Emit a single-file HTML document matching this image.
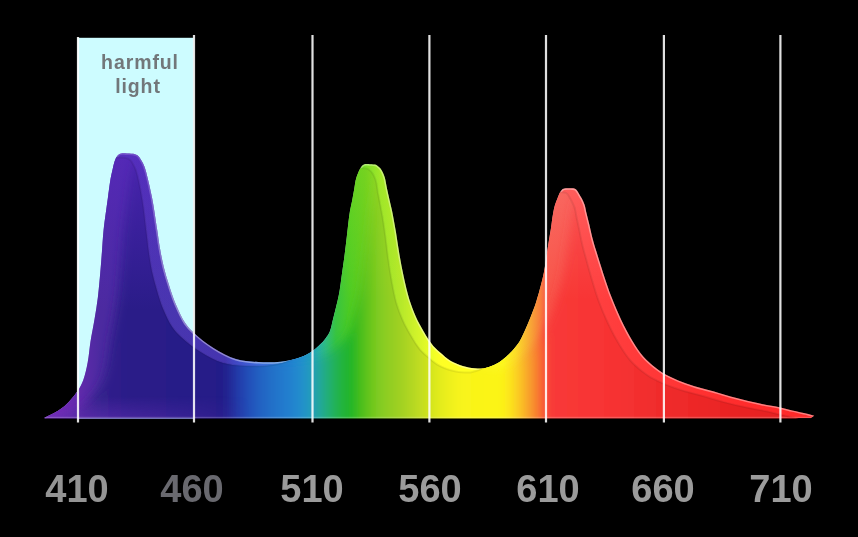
<!DOCTYPE html>
<html><head><meta charset="utf-8"><title>Spectrum</title>
<style>
html,body{margin:0;padding:0;background:#000;}
body{width:858px;height:537px;position:relative;overflow:hidden;font-family:"Liberation Sans",sans-serif;}
svg{position:absolute;left:0;top:0;}
.lab{position:absolute;top:467px;will-change:transform;width:120px;text-align:center;font-weight:bold;font-size:38px;line-height:44px;}
.hl{position:absolute;left:77px;will-change:transform;width:120px;text-align:center;font-weight:bold;font-size:19.5px;letter-spacing:0.9px;color:#72777a;line-height:23.6px;top:50px;}
</style></head>
<body>
<svg width="858" height="537" viewBox="0 0 858 537">
<defs>
<linearGradient id="g" gradientUnits="userSpaceOnUse" x1="0" y1="0" x2="858" y2="0">
<stop offset="0.0513" stop-color="#6e2ab4"/>
<stop offset="0.0909" stop-color="#4a2698"/>
<stop offset="0.1166" stop-color="#32208c"/>
<stop offset="0.1515" stop-color="#2a1e88"/>
<stop offset="0.2331" stop-color="#271c88"/>
<stop offset="0.2622" stop-color="#231c88"/>
<stop offset="0.2716" stop-color="#2030a0"/>
<stop offset="0.2821" stop-color="#2042b0"/>
<stop offset="0.2984" stop-color="#205cc0"/>
<stop offset="0.3170" stop-color="#2070c8"/>
<stop offset="0.3380" stop-color="#2080d0"/>
<stop offset="0.3531" stop-color="#2090cc"/>
<stop offset="0.3625" stop-color="#209cbc"/>
<stop offset="0.3730" stop-color="#20a89a"/>
<stop offset="0.3846" stop-color="#20b06a"/>
<stop offset="0.3986" stop-color="#20b43a"/>
<stop offset="0.4126" stop-color="#24b620"/>
<stop offset="0.4219" stop-color="#50c01e"/>
<stop offset="0.4429" stop-color="#84cc20"/>
<stop offset="0.4662" stop-color="#a0d020"/>
<stop offset="0.4895" stop-color="#c0dc20"/>
<stop offset="0.5128" stop-color="#e4ec1c"/>
<stop offset="0.5361" stop-color="#f8f41a"/>
<stop offset="0.5862" stop-color="#fcf418"/>
<stop offset="0.6014" stop-color="#fcd420"/>
<stop offset="0.6154" stop-color="#f8a42c"/>
<stop offset="0.6294" stop-color="#f87030"/>
<stop offset="0.6375" stop-color="#f83a38"/>
<stop offset="0.6993" stop-color="#f83434"/>
<stop offset="0.7692" stop-color="#f02c2c"/>
<stop offset="0.8625" stop-color="#e82222"/>
<stop offset="0.9499" stop-color="#e41e1e"/>
</linearGradient>
<linearGradient id="vg" gradientUnits="userSpaceOnUse" x1="0" y1="160" x2="0" y2="300">
<stop offset="0" stop-color="#fff" stop-opacity="0.17"/>
<stop offset="1" stop-color="#fff" stop-opacity="0"/>
</linearGradient>
<linearGradient id="vgp" gradientUnits="userSpaceOnUse" x1="0" y1="160" x2="0" y2="310">
<stop offset="0" stop-color="#5a28c4" stop-opacity="0.6"/>
<stop offset="1" stop-color="#5a28c4" stop-opacity="0"/>
</linearGradient>
<linearGradient id="sidep" gradientUnits="userSpaceOnUse" x1="0" y1="0" x2="330" y2="0">
<stop offset="0" stop-color="#7a58e0" stop-opacity="0.35"/>
<stop offset="0.7" stop-color="#7a58e0" stop-opacity="0.3"/>
<stop offset="1" stop-color="#7a58e0" stop-opacity="0"/>
</linearGradient>
<linearGradient id="vgy" gradientUnits="userSpaceOnUse" x1="0" y1="160" x2="0" y2="300">
<stop offset="0" stop-color="#f0ff20" stop-opacity="0.14"/>
<stop offset="1" stop-color="#f0ff20" stop-opacity="0"/>
</linearGradient>
<linearGradient id="gl" gradientUnits="userSpaceOnUse" x1="0" y1="0" x2="858" y2="0">
<stop offset="0.0513" stop-color="#7a2cb8"/>
<stop offset="0.0816" stop-color="#6a2ab0"/>
<stop offset="0.0991" stop-color="#5a2aa8"/>
<stop offset="0.1166" stop-color="#4c2aa0"/>
<stop offset="0.1632" stop-color="#482aa0"/>
<stop offset="0.2331" stop-color="#3a2494"/>
<stop offset="0.2622" stop-color="#2a2090"/>
<stop offset="0.2716" stop-color="#2030a0"/>
<stop offset="0.2821" stop-color="#2042b0"/>
<stop offset="0.2984" stop-color="#205cc0"/>
<stop offset="0.3170" stop-color="#2070c8"/>
<stop offset="0.3380" stop-color="#2080d0"/>
<stop offset="0.3531" stop-color="#2090cc"/>
<stop offset="0.3625" stop-color="#209cbc"/>
<stop offset="0.3706" stop-color="#28b0a8"/>
<stop offset="0.3800" stop-color="#30bc80"/>
<stop offset="0.3916" stop-color="#38c440"/>
<stop offset="0.4079" stop-color="#50cc24"/>
<stop offset="0.4254" stop-color="#62cc20"/>
<stop offset="0.4429" stop-color="#80d224"/>
<stop offset="0.4662" stop-color="#a8dc28"/>
<stop offset="0.4895" stop-color="#c0dc20"/>
<stop offset="0.5128" stop-color="#e8f020"/>
<stop offset="0.5361" stop-color="#fcf820"/>
<stop offset="0.5862" stop-color="#fcf820"/>
<stop offset="0.6014" stop-color="#fcdc28"/>
<stop offset="0.6154" stop-color="#f8b034"/>
<stop offset="0.6294" stop-color="#f8803c"/>
<stop offset="0.6375" stop-color="#f85448"/>
<stop offset="0.6993" stop-color="#f84444"/>
<stop offset="0.7692" stop-color="#f03838"/>
<stop offset="0.9499" stop-color="#e82424"/>
</linearGradient>
<filter id="bl" x="-0.05" y="-0.05" width="1.1" height="1.1"><feGaussianBlur stdDeviation="5"/></filter>
<linearGradient id="bot" gradientUnits="userSpaceOnUse" x1="0" y1="396" x2="0" y2="418">
<stop offset="0" stop-color="#6a30b8" stop-opacity="0"/>
<stop offset="1" stop-color="#6a30b8" stop-opacity="0.55"/>
</linearGradient>
<linearGradient id="botx" gradientUnits="userSpaceOnUse" x1="40" y1="0" x2="250" y2="0">
<stop offset="0" stop-color="#fff" stop-opacity="1"/>
<stop offset="0.3" stop-color="#fff" stop-opacity="0.9"/>
<stop offset="0.7" stop-color="#fff" stop-opacity="0.45"/>
<stop offset="1" stop-color="#fff" stop-opacity="0"/>
</linearGradient>
<mask id="botm"><rect x="0" y="380" width="300" height="50" fill="url(#botx)"/></mask>
<filter id="br" x="-0.05" y="-0.05" width="1.1" height="1.1" color-interpolation-filters="sRGB">
<feComponentTransfer>
<feFuncR type="linear" slope="1.08" intercept="0.03"/>
<feFuncG type="linear" slope="1.08" intercept="0.03"/>
<feFuncB type="linear" slope="1.08" intercept="0.03"/>
</feComponentTransfer>
</filter>
</defs>
<rect x="0" y="0" width="858" height="537" fill="#000"/>
<rect x="77.5" y="37.8" width="116" height="381" fill="#cdfcff"/>
<clipPath id="cu"><path d="M44.5 417.8 C50.4 414.5 56.9 412.1 62.3 407.8 C67.9 403.4 73.6 396.6 77.2 391.4 C80.0 387.5 81.5 384.5 83.2 380.2 C85.2 375.0 86.5 368.5 87.7 362.3 C89.0 355.7 89.4 348.6 90.5 341.6 C91.6 334.3 93.3 326.7 94.5 319.3 C95.7 311.9 97.0 304.5 97.9 297.0 C98.8 289.6 99.4 282.1 100.1 274.6 C100.8 267.2 101.3 259.7 101.9 252.3 C102.5 244.9 102.7 238.2 103.6 230.0 C104.7 219.9 107.1 204.0 108.1 196.3 C108.6 192.3 108.9 190.3 109.3 187.3 C109.7 184.2 110.1 181.1 110.7 178.0 C111.3 175.0 112.0 172.0 112.7 169.0 C113.4 166.0 114.1 162.5 115.1 160.1 C115.8 158.3 116.5 156.6 117.5 155.5 C118.2 154.6 118.9 154.1 120.0 153.7 C121.7 153.1 124.6 153.4 127.0 153.5 C129.6 153.6 132.9 153.6 135.0 154.2 C136.5 154.7 137.5 155.2 138.5 156.2 C139.7 157.4 140.7 159.3 141.7 161.0 C142.7 162.8 143.5 164.1 144.5 166.8 C146.6 172.7 149.6 185.8 151.7 195.9 C153.9 206.8 155.7 220.3 157.2 230.0 C158.3 237.1 158.9 242.4 160.0 248.6 C161.1 254.8 162.3 261.0 163.8 267.2 C165.4 273.5 167.3 279.7 169.3 285.9 C171.3 292.1 173.3 298.4 175.9 304.5 C178.6 310.8 181.8 318.0 185.2 323.1 C187.9 327.1 190.3 329.5 194.0 333.0 C199.1 337.7 206.5 343.7 213.5 348.0 C220.5 352.4 228.2 356.7 235.9 359.0 C243.2 361.2 250.7 361.6 258.2 362.0 C265.6 362.4 273.4 362.5 280.6 361.7 C287.5 360.9 294.9 359.4 300.5 357.3 C305.0 355.6 308.6 353.5 312.0 351.2 C315.0 349.2 317.7 346.8 320.0 344.5 C322.1 342.5 323.9 340.6 325.5 338.4 C327.1 336.2 328.6 334.2 329.8 331.5 C331.2 328.2 331.8 323.9 332.8 320.0 C333.8 316.0 334.8 312.2 335.8 308.0 C336.9 303.3 338.3 298.1 339.2 293.0 C340.2 287.8 340.7 282.8 341.5 277.0 C342.5 270.2 343.6 262.1 344.6 254.7 C345.6 247.2 346.4 239.6 347.3 232.3 C348.1 225.4 348.8 217.9 349.8 212.0 C350.6 207.4 351.5 203.7 352.3 199.7 C353.0 195.9 353.7 191.9 354.3 188.5 C354.8 185.6 355.0 183.0 355.6 180.4 C356.2 178.0 357.1 175.4 357.9 173.4 C358.5 171.8 359.1 170.5 359.8 169.2 C360.4 168.0 360.9 166.7 361.7 165.9 C362.4 165.2 363.1 164.6 364.2 164.3 C365.7 163.9 368.1 164.1 370.0 164.2 C372.0 164.3 374.6 164.3 376.0 164.8 C376.9 165.1 377.3 165.7 378.0 166.2 C378.8 166.8 379.6 167.4 380.3 168.3 C381.1 169.3 381.9 170.6 382.6 172.0 C383.4 173.6 384.1 175.4 384.8 177.6 C385.7 180.6 386.2 184.8 387.0 188.5 C387.8 192.2 388.6 195.9 389.5 199.7 C390.4 203.7 391.4 207.4 392.3 212.0 C393.5 217.9 394.8 225.4 396.0 232.3 C397.2 239.6 398.2 247.3 399.5 254.7 C400.8 262.2 402.2 269.6 403.8 277.0 C405.5 284.5 407.2 292.4 409.4 299.4 C411.4 305.7 414.0 312.5 416.0 317.0 C417.3 319.9 418.2 321.6 419.5 324.0 C420.9 326.6 422.5 329.5 424.0 332.0 C425.4 334.4 426.6 336.5 428.1 338.8 C429.7 341.2 431.2 343.6 433.3 346.0 C435.7 348.7 439.4 351.7 442.0 354.0 C444.1 355.9 445.9 357.5 447.9 358.9 C449.8 360.3 451.9 361.5 453.9 362.5 C455.8 363.5 457.8 364.3 459.8 365.0 C461.8 365.7 463.8 366.3 465.8 366.8 C467.8 367.3 469.7 367.7 471.7 368.0 C473.7 368.3 475.7 368.4 477.7 368.5 C479.7 368.6 481.7 368.7 483.6 368.4 C485.5 368.1 487.3 367.6 489.0 367.0 C490.7 366.4 492.3 365.8 494.0 365.0 C495.8 364.1 497.8 363.1 499.5 362.0 C501.1 361.0 502.5 359.8 504.0 358.6 C505.6 357.3 507.2 355.9 508.8 354.3 C510.7 352.4 513.0 349.9 514.8 347.7 C516.5 345.6 517.9 344.1 519.5 341.5 C521.7 337.9 524.0 332.3 526.0 327.9 C527.8 323.8 529.4 320.2 531.0 316.0 C532.8 311.4 534.6 307.0 536.3 301.5 C538.6 294.4 541.3 284.1 543.0 276.6 C544.4 270.5 545.1 265.6 546.0 260.0 C546.9 254.4 547.6 248.5 548.5 243.0 C549.3 237.8 550.2 232.9 551.0 228.0 C551.7 223.3 552.2 218.2 553.0 214.0 C553.6 210.5 554.2 207.2 555.1 204.4 C555.8 202.1 556.8 200.2 557.5 198.3 C558.1 196.7 558.6 195.1 559.3 193.7 C559.9 192.4 560.5 191.1 561.4 190.2 C562.1 189.4 562.9 188.9 564.0 188.6 C565.4 188.1 567.7 188.3 569.5 188.3 C571.3 188.3 573.7 188.2 575.0 188.8 C575.9 189.2 576.4 189.8 577.0 190.5 C577.7 191.4 578.3 192.5 579.0 193.7 C579.8 195.1 580.8 196.6 581.7 198.3 C582.7 200.2 583.7 202.1 584.5 204.4 C585.4 207.1 585.8 210.3 586.6 213.5 C587.5 217.0 588.4 220.7 589.4 224.7 C590.5 229.4 591.6 234.9 593.0 240.0 C594.3 245.0 595.9 249.7 597.5 255.0 C599.4 261.1 601.5 267.9 603.7 274.7 C606.1 281.9 608.6 289.6 611.5 297.0 C614.5 304.7 617.8 312.6 621.3 320.0 C624.8 327.2 628.6 334.6 632.5 341.0 C636.0 346.7 639.4 352.0 643.3 356.5 C646.9 360.6 651.3 364.3 655.0 367.3 C658.1 369.7 660.4 371.4 663.8 373.4 C668.0 375.8 673.3 378.3 678.3 380.4 C683.5 382.6 689.0 384.4 694.6 386.2 C700.6 388.1 706.7 389.5 713.2 391.3 C720.6 393.4 728.8 396.0 736.6 398.1 C744.3 400.1 752.4 402.0 759.9 403.6 C766.9 405.1 774.5 406.2 780.4 407.5 C784.9 408.5 788.1 409.4 792.3 410.4 C797.0 411.5 803.2 412.8 807.2 413.8 C810.0 414.5 811.9 415.1 814.3 415.7 L811 418.3 L44.5 418.3 Z"/></clipPath>
<clipPath id="cb"><path d="M44.5 417.8 C50.4 414.5 56.9 412.1 62.3 407.8 C67.9 403.4 73.6 396.6 77.2 391.4 C80.0 387.5 81.5 384.5 83.2 380.2 C85.2 375.0 86.5 368.5 87.7 362.3 C89.0 355.7 89.4 348.6 90.5 341.6 C91.6 334.3 93.3 326.7 94.5 319.3 C95.7 311.9 97.0 304.5 97.9 297.0 C98.8 289.6 99.4 282.1 100.1 274.6 C100.8 267.2 101.3 259.7 101.9 252.3 C102.5 244.9 102.7 238.2 103.6 230.0 C104.7 219.9 107.1 204.0 108.1 196.3 C108.6 192.3 108.9 190.3 109.3 187.3 C109.7 184.2 110.1 181.1 110.7 178.0 C111.3 175.0 112.0 172.0 112.7 169.0 C113.4 166.0 114.1 162.5 115.1 160.1 C115.8 158.3 116.5 156.6 117.5 155.5 C118.2 154.6 118.9 154.1 120.0 153.7 C121.7 153.1 124.6 153.4 127.0 153.5 C129.6 153.6 132.9 153.6 135.0 154.2 C136.5 154.7 137.5 155.2 138.5 156.2 C139.7 157.4 140.7 159.3 141.7 161.0 C142.7 162.8 143.5 164.1 144.5 166.8 C146.6 172.7 149.6 185.8 151.7 195.9 C153.9 206.8 155.7 220.3 157.2 230.0 C158.3 237.1 158.9 242.4 160.0 248.6 C161.1 254.8 162.3 261.0 163.8 267.2 C165.4 273.5 167.3 279.7 169.3 285.9 C171.3 292.1 173.3 298.4 175.9 304.5 C178.6 310.8 181.8 318.0 185.2 323.1 C187.9 327.1 190.3 329.5 194.0 333.0 C199.1 337.7 206.5 343.7 213.5 348.0 C220.5 352.4 228.2 356.7 235.9 359.0 C243.2 361.2 250.7 361.6 258.2 362.0 C265.6 362.4 273.4 362.5 280.6 361.7 C287.5 360.9 294.9 359.4 300.5 357.3 C305.0 355.6 308.6 353.5 312.0 351.2 C315.0 349.2 317.7 346.8 320.0 344.5 C322.1 342.5 323.9 340.6 325.5 338.4 C327.1 336.2 328.6 334.2 329.8 331.5 C331.2 328.2 331.8 323.9 332.8 320.0 C333.8 316.0 334.8 312.2 335.8 308.0 C336.9 303.3 338.3 298.1 339.2 293.0 C340.2 287.8 340.7 282.8 341.5 277.0 C342.5 270.2 343.6 262.1 344.6 254.7 C345.6 247.2 346.4 239.6 347.3 232.3 C348.1 225.4 348.8 217.9 349.8 212.0 C350.6 207.4 351.5 203.7 352.3 199.7 C353.0 195.9 353.7 191.9 354.3 188.5 C354.8 185.6 355.0 183.0 355.6 180.4 C356.2 178.0 357.1 175.4 357.9 173.4 C358.5 171.8 359.1 170.5 359.8 169.2 C360.4 168.0 360.9 166.7 361.7 165.9 C362.4 165.2 363.1 164.6 364.2 164.3 C365.7 163.9 368.1 164.1 370.0 164.2 C372.0 164.3 374.6 164.3 376.0 164.8 C376.9 165.1 377.3 165.7 378.0 166.2 C378.8 166.8 379.6 167.4 380.3 168.3 C381.1 169.3 381.9 170.6 382.6 172.0 C383.4 173.6 384.1 175.4 384.8 177.6 C385.7 180.6 386.2 184.8 387.0 188.5 C387.8 192.2 388.6 195.9 389.5 199.7 C390.4 203.7 391.4 207.4 392.3 212.0 C393.5 217.9 394.8 225.4 396.0 232.3 C397.2 239.6 398.2 247.3 399.5 254.7 C400.8 262.2 402.2 269.6 403.8 277.0 C405.5 284.5 407.2 292.4 409.4 299.4 C411.4 305.7 414.0 312.5 416.0 317.0 C417.3 319.9 418.2 321.6 419.5 324.0 C420.9 326.6 422.5 329.5 424.0 332.0 C425.4 334.4 426.6 336.5 428.1 338.8 C429.7 341.2 431.2 343.6 433.3 346.0 C435.7 348.7 439.4 351.7 442.0 354.0 C444.1 355.9 445.9 357.5 447.9 358.9 C449.8 360.3 451.9 361.5 453.9 362.5 C455.8 363.5 457.8 364.3 459.8 365.0 C461.8 365.7 463.8 366.3 465.8 366.8 C467.8 367.3 469.7 367.7 471.7 368.0 C473.7 368.3 475.7 368.4 477.7 368.5 C479.7 368.6 481.7 368.7 483.6 368.4 C485.5 368.1 487.3 367.6 489.0 367.0 C490.7 366.4 492.3 365.8 494.0 365.0 C495.8 364.1 497.8 363.1 499.5 362.0 C501.1 361.0 502.5 359.8 504.0 358.6 C505.6 357.3 507.2 355.9 508.8 354.3 C510.7 352.4 513.0 349.9 514.8 347.7 C516.5 345.6 517.9 344.1 519.5 341.5 C521.7 337.9 524.0 332.3 526.0 327.9 C527.8 323.8 529.4 320.2 531.0 316.0 C532.8 311.4 534.6 307.0 536.3 301.5 C538.6 294.4 541.3 284.1 543.0 276.6 C544.4 270.5 545.1 265.6 546.0 260.0 C546.9 254.4 547.6 248.5 548.5 243.0 C549.3 237.8 550.2 232.9 551.0 228.0 C551.7 223.3 552.2 218.2 553.0 214.0 C553.6 210.5 554.2 207.2 555.1 204.4 C555.8 202.1 556.8 200.2 557.5 198.3 C558.1 196.7 558.6 195.1 559.3 193.7 C559.9 192.4 560.5 191.1 561.4 190.2 C562.1 189.4 562.9 188.9 564.0 188.6 C565.4 188.1 567.7 188.3 569.5 188.3 C571.3 188.3 573.7 188.2 575.0 188.8 C575.9 189.2 576.4 189.8 577.0 190.5 C577.7 191.4 578.3 192.5 579.0 193.7 C579.8 195.1 580.8 196.6 581.7 198.3 C582.7 200.2 583.7 202.1 584.5 204.4 C585.4 207.1 585.8 210.3 586.6 213.5 C587.5 217.0 588.4 220.7 589.4 224.7 C590.5 229.4 591.6 234.9 593.0 240.0 C594.3 245.0 595.9 249.7 597.5 255.0 C599.4 261.1 601.5 267.9 603.7 274.7 C606.1 281.9 608.6 289.6 611.5 297.0 C614.5 304.7 617.8 312.6 621.3 320.0 C624.8 327.2 628.6 334.6 632.5 341.0 C636.0 346.7 639.4 352.0 643.3 356.5 C646.9 360.6 651.3 364.3 655.0 367.3 C658.1 369.7 660.4 371.4 663.8 373.4 C668.0 375.8 673.3 378.3 678.3 380.4 C683.5 382.6 689.0 384.4 694.6 386.2 C700.6 388.1 706.7 389.5 713.2 391.3 C720.6 393.4 728.8 396.0 736.6 398.1 C744.3 400.1 752.4 402.0 759.9 403.6 C766.9 405.1 774.5 406.2 780.4 407.5 C784.9 408.5 788.1 409.4 792.3 410.4 C797.0 411.5 803.2 412.8 807.2 413.8 C810.0 414.5 811.9 415.1 814.3 415.7 L811 418.3 L44.5 418.3 Z"/><path d="M48.5 415.8 C54.4 412.5 60.9 410.1 66.3 405.8 C71.9 401.4 77.6 394.6 81.2 389.4 C84.0 385.5 85.5 382.5 87.2 378.2 C89.2 373.0 90.5 366.5 91.7 360.3 C93.0 353.7 93.4 346.6 94.5 339.6 C95.6 332.3 97.3 324.7 98.5 317.3 C99.7 309.9 101.0 302.5 101.9 295.0 C102.8 287.6 103.4 280.1 104.1 272.6 C104.8 265.2 105.3 257.7 105.9 250.3 C106.5 242.9 106.7 236.2 107.6 228.0 C108.7 217.9 111.1 202.0 112.1 194.3 C112.6 190.3 112.9 188.3 113.3 185.3 C113.7 182.2 114.1 179.1 114.7 176.0 C115.3 173.0 116.0 170.0 116.7 167.0 C117.4 164.0 118.1 160.5 119.1 158.1 C119.8 156.3 120.5 154.6 121.5 153.5 C122.2 152.6 122.9 152.1 124.0 151.7 C125.7 151.1 128.6 151.4 131.0 151.5 C133.6 151.6 136.9 151.6 139.0 152.2 C140.5 152.7 141.5 153.2 142.5 154.2 C143.7 155.4 144.7 157.3 145.7 159.0 C146.7 160.8 147.5 162.1 148.5 164.8 C150.6 170.7 153.6 183.8 155.7 193.9 C157.9 204.8 159.7 218.3 161.2 228.0 C162.3 235.1 162.9 240.4 164.0 246.6 C165.1 252.8 166.3 259.0 167.8 265.2 C169.4 271.5 171.3 277.7 173.3 283.9 C175.3 290.1 177.3 296.4 179.9 302.5 C182.6 308.8 185.8 316.0 189.2 321.1 C191.9 325.1 194.3 327.5 198.0 331.0 C203.1 335.7 210.5 341.7 217.5 346.0 C224.5 350.4 232.2 354.7 239.9 357.0 C247.2 359.2 254.7 359.6 262.2 360.0 C269.6 360.4 277.4 360.5 284.6 359.7 C291.5 358.9 298.9 357.4 304.5 355.3 C309.0 353.6 312.6 351.5 316.0 349.2 C319.0 347.2 321.7 344.8 324.0 342.5 C326.1 340.5 327.9 338.6 329.5 336.4 C331.1 334.2 332.6 332.2 333.8 329.5 C335.2 326.2 335.8 321.9 336.8 318.0 C337.8 314.0 338.8 310.2 339.8 306.0 C340.9 301.3 342.3 296.1 343.2 291.0 C344.2 285.8 344.7 280.8 345.5 275.0 C346.5 268.2 347.6 260.1 348.6 252.7 C349.6 245.2 350.4 237.6 351.3 230.3 C352.1 223.4 352.8 215.9 353.8 210.0 C354.6 205.4 355.5 201.7 356.3 197.7 C357.0 193.9 357.7 189.9 358.3 186.5 C358.8 183.6 359.0 181.0 359.6 178.4 C360.2 176.0 361.1 173.4 361.9 171.4 C362.5 169.8 363.1 168.5 363.8 167.2 C364.4 166.0 364.9 164.7 365.7 163.9 C366.4 163.2 367.1 162.6 368.2 162.3 C369.7 161.9 372.1 162.1 374.0 162.2 C376.0 162.3 378.6 162.3 380.0 162.8 C380.9 163.1 381.3 163.7 382.0 164.2 C382.8 164.8 383.6 165.4 384.3 166.3 C385.1 167.3 385.9 168.6 386.6 170.0 C387.4 171.6 388.1 173.4 388.8 175.6 C389.7 178.6 390.2 182.8 391.0 186.5 C391.8 190.2 392.6 193.9 393.5 197.7 C394.4 201.7 395.4 205.4 396.3 210.0 C397.5 215.9 398.8 223.4 400.0 230.3 C401.2 237.6 402.2 245.3 403.5 252.7 C404.8 260.2 406.2 267.6 407.8 275.0 C409.5 282.5 411.2 290.4 413.4 297.4 C415.4 303.7 418.0 310.5 420.0 315.0 C421.3 317.9 422.2 319.6 423.5 322.0 C424.9 324.6 426.5 327.5 428.0 330.0 C429.4 332.4 430.6 334.5 432.1 336.8 C433.7 339.2 435.2 341.6 437.3 344.0 C439.7 346.7 443.4 349.7 446.0 352.0 C448.1 353.9 449.9 355.5 451.9 356.9 C453.8 358.3 455.9 359.5 457.9 360.5 C459.8 361.5 461.8 362.3 463.8 363.0 C465.8 363.7 467.8 364.3 469.8 364.8 C471.8 365.3 473.7 365.7 475.7 366.0 C477.7 366.3 479.7 366.4 481.7 366.5 C483.7 366.6 485.7 366.7 487.6 366.4 C489.5 366.1 491.3 365.6 493.0 365.0 C494.7 364.4 496.3 363.8 498.0 363.0 C499.8 362.1 501.8 361.1 503.5 360.0 C505.1 359.0 506.5 357.8 508.0 356.6 C509.6 355.3 511.2 353.9 512.8 352.3 C514.7 350.4 517.0 347.9 518.8 345.7 C520.5 343.6 521.9 342.1 523.5 339.5 C525.7 335.9 528.0 330.3 530.0 325.9 C531.8 321.8 533.4 318.2 535.0 314.0 C536.8 309.4 538.6 305.0 540.3 299.5 C542.6 292.4 545.3 282.1 547.0 274.6 C548.4 268.5 549.1 263.6 550.0 258.0 C550.9 252.4 551.6 246.5 552.5 241.0 C553.3 235.8 554.2 230.9 555.0 226.0 C555.7 221.3 556.2 216.2 557.0 212.0 C557.6 208.5 558.2 205.2 559.1 202.4 C559.8 200.1 560.8 198.2 561.5 196.3 C562.1 194.7 562.6 193.1 563.3 191.7 C563.9 190.4 564.5 189.1 565.4 188.2 C566.1 187.4 566.9 186.9 568.0 186.6 C569.4 186.1 571.7 186.3 573.5 186.3 C575.3 186.3 577.7 186.2 579.0 186.8 C579.9 187.2 580.4 187.8 581.0 188.5 C581.7 189.4 582.3 190.5 583.0 191.7 C583.8 193.1 584.8 194.6 585.7 196.3 C586.7 198.2 587.7 200.1 588.5 202.4 C589.4 205.1 589.8 208.3 590.6 211.5 C591.5 215.0 592.4 218.7 593.4 222.7 C594.5 227.4 595.6 232.9 597.0 238.0 C598.3 243.0 599.9 247.7 601.5 253.0 C603.4 259.1 605.5 265.9 607.7 272.7 C610.1 279.9 612.6 287.6 615.5 295.0 C618.5 302.7 621.8 310.6 625.3 318.0 C628.8 325.2 632.6 332.6 636.5 339.0 C640.0 344.7 643.4 350.0 647.3 354.5 C650.9 358.6 655.3 362.3 659.0 365.3 C662.1 367.7 664.4 369.4 667.8 371.4 C672.0 373.8 677.3 376.3 682.3 378.4 C687.5 380.6 693.0 382.4 698.6 384.2 C704.6 386.1 710.7 387.5 717.2 389.3 C724.6 391.4 732.8 394.0 740.6 396.1 C748.3 398.1 756.4 400.0 763.9 401.6 C770.9 403.1 778.5 404.2 784.4 405.5 C788.9 406.5 792.1 407.4 796.3 408.4 C801.0 409.5 807.2 410.8 811.2 411.8 C814.0 412.5 815.9 413.1 818.3 413.7 L815.0 416.3 L48.5 416.3 Z"/></clipPath>
<g clip-path="url(#cb)"><path d="M44.5 417.8 C50.4 414.5 56.9 412.1 62.3 407.8 C67.9 403.4 73.6 396.6 77.2 391.4 C80.0 387.5 81.5 384.5 83.2 380.2 C85.2 375.0 86.5 368.5 87.7 362.3 C89.0 355.7 89.4 348.6 90.5 341.6 C91.6 334.3 93.3 326.7 94.5 319.3 C95.7 311.9 97.0 304.5 97.9 297.0 C98.8 289.6 99.4 282.1 100.1 274.6 C100.8 267.2 101.3 259.7 101.9 252.3 C102.5 244.9 102.7 238.2 103.6 230.0 C104.7 219.9 107.1 204.0 108.1 196.3 C108.6 192.3 108.9 190.3 109.3 187.3 C109.7 184.2 110.1 181.1 110.7 178.0 C111.3 175.0 112.0 172.0 112.7 169.0 C113.4 166.0 114.1 162.5 115.1 160.1 C115.8 158.3 116.5 156.6 117.5 155.5 C118.2 154.6 118.9 154.1 120.0 153.7 C121.7 153.1 124.6 153.4 127.0 153.5 C129.6 153.6 132.9 153.6 135.0 154.2 C136.5 154.7 137.5 155.2 138.5 156.2 C139.7 157.4 140.7 159.3 141.7 161.0 C142.7 162.8 143.5 164.1 144.5 166.8 C146.6 172.7 149.6 185.8 151.7 195.9 C153.9 206.8 155.7 220.3 157.2 230.0 C158.3 237.1 158.9 242.4 160.0 248.6 C161.1 254.8 162.3 261.0 163.8 267.2 C165.4 273.5 167.3 279.7 169.3 285.9 C171.3 292.1 173.3 298.4 175.9 304.5 C178.6 310.8 181.8 318.0 185.2 323.1 C187.9 327.1 190.3 329.5 194.0 333.0 C199.1 337.7 206.5 343.7 213.5 348.0 C220.5 352.4 228.2 356.7 235.9 359.0 C243.2 361.2 250.7 361.6 258.2 362.0 C265.6 362.4 273.4 362.5 280.6 361.7 C287.5 360.9 294.9 359.4 300.5 357.3 C305.0 355.6 308.6 353.5 312.0 351.2 C315.0 349.2 317.7 346.8 320.0 344.5 C322.1 342.5 323.9 340.6 325.5 338.4 C327.1 336.2 328.6 334.2 329.8 331.5 C331.2 328.2 331.8 323.9 332.8 320.0 C333.8 316.0 334.8 312.2 335.8 308.0 C336.9 303.3 338.3 298.1 339.2 293.0 C340.2 287.8 340.7 282.8 341.5 277.0 C342.5 270.2 343.6 262.1 344.6 254.7 C345.6 247.2 346.4 239.6 347.3 232.3 C348.1 225.4 348.8 217.9 349.8 212.0 C350.6 207.4 351.5 203.7 352.3 199.7 C353.0 195.9 353.7 191.9 354.3 188.5 C354.8 185.6 355.0 183.0 355.6 180.4 C356.2 178.0 357.1 175.4 357.9 173.4 C358.5 171.8 359.1 170.5 359.8 169.2 C360.4 168.0 360.9 166.7 361.7 165.9 C362.4 165.2 363.1 164.6 364.2 164.3 C365.7 163.9 368.1 164.1 370.0 164.2 C372.0 164.3 374.6 164.3 376.0 164.8 C376.9 165.1 377.3 165.7 378.0 166.2 C378.8 166.8 379.6 167.4 380.3 168.3 C381.1 169.3 381.9 170.6 382.6 172.0 C383.4 173.6 384.1 175.4 384.8 177.6 C385.7 180.6 386.2 184.8 387.0 188.5 C387.8 192.2 388.6 195.9 389.5 199.7 C390.4 203.7 391.4 207.4 392.3 212.0 C393.5 217.9 394.8 225.4 396.0 232.3 C397.2 239.6 398.2 247.3 399.5 254.7 C400.8 262.2 402.2 269.6 403.8 277.0 C405.5 284.5 407.2 292.4 409.4 299.4 C411.4 305.7 414.0 312.5 416.0 317.0 C417.3 319.9 418.2 321.6 419.5 324.0 C420.9 326.6 422.5 329.5 424.0 332.0 C425.4 334.4 426.6 336.5 428.1 338.8 C429.7 341.2 431.2 343.6 433.3 346.0 C435.7 348.7 439.4 351.7 442.0 354.0 C444.1 355.9 445.9 357.5 447.9 358.9 C449.8 360.3 451.9 361.5 453.9 362.5 C455.8 363.5 457.8 364.3 459.8 365.0 C461.8 365.7 463.8 366.3 465.8 366.8 C467.8 367.3 469.7 367.7 471.7 368.0 C473.7 368.3 475.7 368.4 477.7 368.5 C479.7 368.6 481.7 368.7 483.6 368.4 C485.5 368.1 487.3 367.6 489.0 367.0 C490.7 366.4 492.3 365.8 494.0 365.0 C495.8 364.1 497.8 363.1 499.5 362.0 C501.1 361.0 502.5 359.8 504.0 358.6 C505.6 357.3 507.2 355.9 508.8 354.3 C510.7 352.4 513.0 349.9 514.8 347.7 C516.5 345.6 517.9 344.1 519.5 341.5 C521.7 337.9 524.0 332.3 526.0 327.9 C527.8 323.8 529.4 320.2 531.0 316.0 C532.8 311.4 534.6 307.0 536.3 301.5 C538.6 294.4 541.3 284.1 543.0 276.6 C544.4 270.5 545.1 265.6 546.0 260.0 C546.9 254.4 547.6 248.5 548.5 243.0 C549.3 237.8 550.2 232.9 551.0 228.0 C551.7 223.3 552.2 218.2 553.0 214.0 C553.6 210.5 554.2 207.2 555.1 204.4 C555.8 202.1 556.8 200.2 557.5 198.3 C558.1 196.7 558.6 195.1 559.3 193.7 C559.9 192.4 560.5 191.1 561.4 190.2 C562.1 189.4 562.9 188.9 564.0 188.6 C565.4 188.1 567.7 188.3 569.5 188.3 C571.3 188.3 573.7 188.2 575.0 188.8 C575.9 189.2 576.4 189.8 577.0 190.5 C577.7 191.4 578.3 192.5 579.0 193.7 C579.8 195.1 580.8 196.6 581.7 198.3 C582.7 200.2 583.7 202.1 584.5 204.4 C585.4 207.1 585.8 210.3 586.6 213.5 C587.5 217.0 588.4 220.7 589.4 224.7 C590.5 229.4 591.6 234.9 593.0 240.0 C594.3 245.0 595.9 249.7 597.5 255.0 C599.4 261.1 601.5 267.9 603.7 274.7 C606.1 281.9 608.6 289.6 611.5 297.0 C614.5 304.7 617.8 312.6 621.3 320.0 C624.8 327.2 628.6 334.6 632.5 341.0 C636.0 346.7 639.4 352.0 643.3 356.5 C646.9 360.6 651.3 364.3 655.0 367.3 C658.1 369.7 660.4 371.4 663.8 373.4 C668.0 375.8 673.3 378.3 678.3 380.4 C683.5 382.6 689.0 384.4 694.6 386.2 C700.6 388.1 706.7 389.5 713.2 391.3 C720.6 393.4 728.8 396.0 736.6 398.1 C744.3 400.1 752.4 402.0 759.9 403.6 C766.9 405.1 774.5 406.2 780.4 407.5 C784.9 408.5 788.1 409.4 792.3 410.4 C797.0 411.5 803.2 412.8 807.2 413.8 C810.0 414.5 811.9 415.1 814.3 415.7 L811 418.3 L44.5 418.3 Z" fill="url(#g)" filter="url(#br)"/></g>
<clipPath id="cf"><path d="M31.5 421.8 C37.4 418.5 43.9 416.1 49.3 411.8 C54.9 407.4 60.6 400.6 64.2 395.4 C67.0 391.5 68.5 388.5 70.2 384.2 C72.2 379.0 73.5 372.5 74.7 366.3 C76.0 359.7 76.4 352.6 77.5 345.6 C78.6 338.3 80.2 330.7 81.5 323.3 C82.7 315.9 83.9 308.4 85.0 301.0 C86.1 293.5 87.1 286.1 88.0 278.6 C88.9 271.2 89.7 263.7 90.5 256.3 C91.4 248.9 91.9 242.2 93.0 234.0 C94.4 223.9 97.4 208.0 98.7 200.3 C99.3 196.3 99.7 194.3 100.2 191.3 C100.7 188.2 101.2 185.1 101.9 182.0 C102.6 179.0 103.4 176.0 104.2 173.0 C105.1 170.0 105.9 166.5 106.9 164.1 C107.7 162.3 108.5 160.6 109.5 159.5 C110.2 158.7 110.9 158.1 112.0 157.7 C113.7 157.1 116.6 157.4 119.0 157.5 C121.6 157.6 124.9 157.5 127.0 158.2 C128.5 158.7 129.4 159.2 130.5 160.2 C131.7 161.4 132.6 163.3 133.5 165.0 C134.5 166.8 135.2 168.1 136.1 170.8 C138.0 176.7 140.6 189.8 142.3 199.9 C144.1 210.8 145.4 224.3 146.6 234.0 C147.5 241.1 147.9 246.4 148.8 252.6 C149.7 258.8 150.6 265.0 151.9 271.2 C153.3 277.5 155.0 283.7 156.8 289.9 C158.6 296.1 160.4 302.4 162.9 308.5 C165.5 314.8 168.8 322.0 172.2 327.1 C174.9 331.1 177.3 333.5 181.0 337.0 C186.1 341.7 193.5 347.7 200.5 352.0 C207.5 356.4 215.2 360.7 222.9 363.0 C230.2 365.2 237.7 365.6 245.2 366.0 C252.6 366.4 260.4 366.5 267.6 365.7 C274.5 364.9 281.9 363.4 287.5 361.3 C292.0 359.6 295.6 357.5 299.0 355.2 C302.0 353.2 304.7 350.8 307.0 348.5 C309.1 346.5 310.9 344.6 312.5 342.4 C314.1 340.2 315.6 338.2 316.8 335.5 C318.2 332.2 318.8 327.9 319.8 324.0 C320.8 320.0 321.8 316.2 322.8 312.0 C324.0 307.3 325.4 302.1 326.4 297.0 C327.5 291.8 328.3 286.8 329.3 281.0 C330.5 274.2 331.9 266.1 333.2 258.7 C334.4 251.2 335.5 243.6 336.6 236.3 C337.7 229.4 338.7 221.9 339.8 216.0 C340.7 211.4 341.9 207.7 342.8 203.7 C343.6 199.9 344.4 195.9 345.1 192.5 C345.7 189.6 346.0 187.0 346.7 184.4 C347.4 182.0 348.4 179.4 349.3 177.4 C349.9 175.8 350.6 174.5 351.3 173.2 C352.0 172.0 352.5 170.7 353.3 169.9 C354.1 169.2 354.8 168.6 355.9 168.3 C357.4 167.9 359.7 168.1 361.7 168.2 C363.7 168.3 366.3 168.3 367.7 168.8 C368.5 169.1 369.0 169.7 369.6 170.2 C370.4 170.8 371.2 171.4 371.8 172.3 C372.6 173.3 373.4 174.6 374.0 176.0 C374.8 177.6 375.4 179.4 376.0 181.6 C376.8 184.6 377.2 188.8 377.8 192.5 C378.5 196.2 379.2 199.9 380.0 203.7 C380.7 207.7 381.5 211.4 382.3 216.0 C383.3 221.9 384.4 229.4 385.3 236.3 C386.3 243.6 387.0 251.3 388.1 258.7 C389.1 266.2 390.2 273.6 391.6 281.0 C393.0 288.5 394.4 296.5 396.4 303.4 C398.3 309.7 401.0 316.5 403.0 321.0 C404.3 323.9 405.2 325.6 406.5 328.0 C407.9 330.6 409.5 333.5 411.0 336.0 C412.4 338.4 413.6 340.5 415.1 342.8 C416.7 345.2 418.2 347.6 420.3 350.0 C422.7 352.7 426.4 355.7 429.0 358.0 C431.1 359.9 432.9 361.5 434.9 362.9 C436.8 364.3 438.9 365.5 440.9 366.5 C442.8 367.5 444.8 368.3 446.8 369.0 C448.8 369.7 450.8 370.3 452.8 370.8 C454.8 371.3 456.7 371.7 458.7 372.0 C460.7 372.3 462.7 372.4 464.7 372.5 C466.7 372.6 468.7 372.7 470.6 372.4 C472.5 372.1 474.3 371.6 476.0 371.0 C477.7 370.4 479.3 369.8 481.0 369.0 C482.8 368.1 484.8 367.1 486.5 366.0 C488.1 365.0 489.5 363.8 491.0 362.6 C492.6 361.3 494.2 359.9 495.8 358.3 C497.7 356.4 500.0 353.9 501.8 351.7 C503.5 349.6 504.9 348.1 506.5 345.5 C508.7 341.9 511.0 336.3 513.0 331.9 C514.8 327.8 516.4 324.2 518.0 320.0 C519.8 315.4 521.5 311.0 523.3 305.5 C525.7 298.3 528.9 288.1 530.8 280.6 C532.4 274.5 533.3 269.6 534.4 264.0 C535.5 258.4 536.4 252.5 537.5 247.0 C538.5 241.8 539.6 236.9 540.5 232.0 C541.4 227.3 542.1 222.2 543.0 218.0 C543.7 214.5 544.4 211.2 545.4 208.4 C546.2 206.1 547.2 204.2 548.0 202.3 C548.7 200.7 549.2 199.1 550.0 197.7 C550.6 196.4 551.3 195.1 552.2 194.2 C553.0 193.4 553.7 192.9 554.8 192.6 C556.3 192.2 558.5 192.3 560.4 192.3 C562.2 192.3 564.5 192.2 565.8 192.8 C566.7 193.2 567.2 193.8 567.8 194.5 C568.5 195.4 569.0 196.5 569.7 197.7 C570.5 199.1 571.4 200.6 572.2 202.3 C573.1 204.2 574.1 206.1 574.8 208.4 C575.6 211.1 575.9 214.3 576.6 217.5 C577.3 221.0 578.2 224.7 579.0 228.7 C580.0 233.4 580.9 238.9 582.1 244.0 C583.2 249.0 584.6 253.7 586.1 259.0 C587.7 265.1 589.6 271.9 591.6 278.7 C593.7 285.9 595.9 293.6 598.6 301.0 C601.4 308.7 604.8 316.6 608.3 324.0 C611.7 331.2 615.6 338.6 619.5 345.0 C623.0 350.7 626.4 356.0 630.3 360.5 C633.9 364.6 638.3 368.3 642.0 371.3 C645.1 373.7 647.4 375.4 650.8 377.4 C655.0 379.8 660.3 382.3 665.3 384.4 C670.5 386.6 676.0 388.4 681.6 390.2 C687.6 392.1 693.7 393.5 700.2 395.3 C707.6 397.4 715.8 400.0 723.6 402.1 C731.3 404.1 739.4 406.0 746.9 407.6 C753.9 409.1 761.5 410.2 767.4 411.5 C771.9 412.5 775.1 413.4 779.3 414.4 C784.0 415.5 790.2 416.8 794.2 417.8 C797.0 418.5 798.9 419.1 801.3 419.7 L860 430 L0 430 Z"/></clipPath>
<g clip-path="url(#cu)">
<rect x="0" y="140" width="330" height="290" fill="url(#sidep)"/>
<path d="M44.5 417.8 C50.4 414.5 56.9 412.1 62.3 407.8 C67.9 403.4 73.6 396.6 77.2 391.4 C80.0 387.5 81.5 384.5 83.2 380.2 C85.2 375.0 86.5 368.5 87.7 362.3 C89.0 355.7 89.4 348.6 90.5 341.6 C91.6 334.3 93.3 326.7 94.5 319.3 C95.7 311.9 97.0 304.5 97.9 297.0 C98.8 289.6 99.4 282.1 100.1 274.6 C100.8 267.2 101.3 259.7 101.9 252.3 C102.5 244.9 102.7 238.2 103.6 230.0 C104.7 219.9 107.1 204.0 108.1 196.3 C108.6 192.3 108.9 190.3 109.3 187.3 C109.7 184.2 110.1 181.1 110.7 178.0 C111.3 175.0 112.0 172.0 112.7 169.0 C113.4 166.0 114.1 162.5 115.1 160.1 C115.8 158.3 116.5 156.6 117.5 155.5 C118.2 154.6 118.9 154.1 120.0 153.7 C121.7 153.1 124.6 153.4 127.0 153.5 C129.6 153.6 132.9 153.6 135.0 154.2 C136.5 154.7 137.5 155.2 138.5 156.2 C139.7 157.4 140.7 159.3 141.7 161.0 C142.7 162.8 143.5 164.1 144.5 166.8 C146.6 172.7 149.6 185.8 151.7 195.9 C153.9 206.8 155.7 220.3 157.2 230.0 C158.3 237.1 158.9 242.4 160.0 248.6 C161.1 254.8 162.3 261.0 163.8 267.2 C165.4 273.5 167.3 279.7 169.3 285.9 C171.3 292.1 173.3 298.4 175.9 304.5 C178.6 310.8 181.8 318.0 185.2 323.1 C187.9 327.1 190.3 329.5 194.0 333.0 C199.1 337.7 206.5 343.7 213.5 348.0 C220.5 352.4 228.2 356.7 235.9 359.0 C243.2 361.2 250.7 361.6 258.2 362.0 C265.6 362.4 273.4 362.5 280.6 361.7 C287.5 360.9 294.9 359.4 300.5 357.3 C305.0 355.6 308.6 353.5 312.0 351.2 C315.0 349.2 317.7 346.8 320.0 344.5 C322.1 342.5 323.9 340.6 325.5 338.4 C327.1 336.2 328.6 334.2 329.8 331.5 C331.2 328.2 331.8 323.9 332.8 320.0 C333.8 316.0 334.8 312.2 335.8 308.0 C336.9 303.3 338.3 298.1 339.2 293.0 C340.2 287.8 340.7 282.8 341.5 277.0 C342.5 270.2 343.6 262.1 344.6 254.7 C345.6 247.2 346.4 239.6 347.3 232.3 C348.1 225.4 348.8 217.9 349.8 212.0 C350.6 207.4 351.5 203.7 352.3 199.7 C353.0 195.9 353.7 191.9 354.3 188.5 C354.8 185.6 355.0 183.0 355.6 180.4 C356.2 178.0 357.1 175.4 357.9 173.4 C358.5 171.8 359.1 170.5 359.8 169.2 C360.4 168.0 360.9 166.7 361.7 165.9 C362.4 165.2 363.1 164.6 364.2 164.3 C365.7 163.9 368.1 164.1 370.0 164.2 C372.0 164.3 374.6 164.3 376.0 164.8 C376.9 165.1 377.3 165.7 378.0 166.2 C378.8 166.8 379.6 167.4 380.3 168.3 C381.1 169.3 381.9 170.6 382.6 172.0 C383.4 173.6 384.1 175.4 384.8 177.6 C385.7 180.6 386.2 184.8 387.0 188.5 C387.8 192.2 388.6 195.9 389.5 199.7 C390.4 203.7 391.4 207.4 392.3 212.0 C393.5 217.9 394.8 225.4 396.0 232.3 C397.2 239.6 398.2 247.3 399.5 254.7 C400.8 262.2 402.2 269.6 403.8 277.0 C405.5 284.5 407.2 292.4 409.4 299.4 C411.4 305.7 414.0 312.5 416.0 317.0 C417.3 319.9 418.2 321.6 419.5 324.0 C420.9 326.6 422.5 329.5 424.0 332.0 C425.4 334.4 426.6 336.5 428.1 338.8 C429.7 341.2 431.2 343.6 433.3 346.0 C435.7 348.7 439.4 351.7 442.0 354.0 C444.1 355.9 445.9 357.5 447.9 358.9 C449.8 360.3 451.9 361.5 453.9 362.5 C455.8 363.5 457.8 364.3 459.8 365.0 C461.8 365.7 463.8 366.3 465.8 366.8 C467.8 367.3 469.7 367.7 471.7 368.0 C473.7 368.3 475.7 368.4 477.7 368.5 C479.7 368.6 481.7 368.7 483.6 368.4 C485.5 368.1 487.3 367.6 489.0 367.0 C490.7 366.4 492.3 365.8 494.0 365.0 C495.8 364.1 497.8 363.1 499.5 362.0 C501.1 361.0 502.5 359.8 504.0 358.6 C505.6 357.3 507.2 355.9 508.8 354.3 C510.7 352.4 513.0 349.9 514.8 347.7 C516.5 345.6 517.9 344.1 519.5 341.5 C521.7 337.9 524.0 332.3 526.0 327.9 C527.8 323.8 529.4 320.2 531.0 316.0 C532.8 311.4 534.6 307.0 536.3 301.5 C538.6 294.4 541.3 284.1 543.0 276.6 C544.4 270.5 545.1 265.6 546.0 260.0 C546.9 254.4 547.6 248.5 548.5 243.0 C549.3 237.8 550.2 232.9 551.0 228.0 C551.7 223.3 552.2 218.2 553.0 214.0 C553.6 210.5 554.2 207.2 555.1 204.4 C555.8 202.1 556.8 200.2 557.5 198.3 C558.1 196.7 558.6 195.1 559.3 193.7 C559.9 192.4 560.5 191.1 561.4 190.2 C562.1 189.4 562.9 188.9 564.0 188.6 C565.4 188.1 567.7 188.3 569.5 188.3 C571.3 188.3 573.7 188.2 575.0 188.8 C575.9 189.2 576.4 189.8 577.0 190.5 C577.7 191.4 578.3 192.5 579.0 193.7 C579.8 195.1 580.8 196.6 581.7 198.3 C582.7 200.2 583.7 202.1 584.5 204.4 C585.4 207.1 585.8 210.3 586.6 213.5 C587.5 217.0 588.4 220.7 589.4 224.7 C590.5 229.4 591.6 234.9 593.0 240.0 C594.3 245.0 595.9 249.7 597.5 255.0 C599.4 261.1 601.5 267.9 603.7 274.7 C606.1 281.9 608.6 289.6 611.5 297.0 C614.5 304.7 617.8 312.6 621.3 320.0 C624.8 327.2 628.6 334.6 632.5 341.0 C636.0 346.7 639.4 352.0 643.3 356.5 C646.9 360.6 651.3 364.3 655.0 367.3 C658.1 369.7 660.4 371.4 663.8 373.4 C668.0 375.8 673.3 378.3 678.3 380.4 C683.5 382.6 689.0 384.4 694.6 386.2 C700.6 388.1 706.7 389.5 713.2 391.3 C720.6 393.4 728.8 396.0 736.6 398.1 C744.3 400.1 752.4 402.0 759.9 403.6 C766.9 405.1 774.5 406.2 780.4 407.5 C784.9 408.5 788.1 409.4 792.3 410.4 C797.0 411.5 803.2 412.8 807.2 413.8 C810.0 414.5 811.9 415.1 814.3 415.7" fill="none" stroke="#fff" stroke-opacity="0.4" stroke-width="3"/>
<path d="M31.5 421.8 C37.4 418.5 43.9 416.1 49.3 411.8 C54.9 407.4 60.6 400.6 64.2 395.4 C67.0 391.5 68.5 388.5 70.2 384.2 C72.2 379.0 73.5 372.5 74.7 366.3 C76.0 359.7 76.4 352.6 77.5 345.6 C78.6 338.3 80.2 330.7 81.5 323.3 C82.7 315.9 83.9 308.4 85.0 301.0 C86.1 293.5 87.1 286.1 88.0 278.6 C88.9 271.2 89.7 263.7 90.5 256.3 C91.4 248.9 91.9 242.2 93.0 234.0 C94.4 223.9 97.4 208.0 98.7 200.3 C99.3 196.3 99.7 194.3 100.2 191.3 C100.7 188.2 101.2 185.1 101.9 182.0 C102.6 179.0 103.4 176.0 104.2 173.0 C105.1 170.0 105.9 166.5 106.9 164.1 C107.7 162.3 108.5 160.6 109.5 159.5 C110.2 158.7 110.9 158.1 112.0 157.7 C113.7 157.1 116.6 157.4 119.0 157.5 C121.6 157.6 124.9 157.5 127.0 158.2 C128.5 158.7 129.4 159.2 130.5 160.2 C131.7 161.4 132.6 163.3 133.5 165.0 C134.5 166.8 135.2 168.1 136.1 170.8 C138.0 176.7 140.6 189.8 142.3 199.9 C144.1 210.8 145.4 224.3 146.6 234.0 C147.5 241.1 147.9 246.4 148.8 252.6 C149.7 258.8 150.6 265.0 151.9 271.2 C153.3 277.5 155.0 283.7 156.8 289.9 C158.6 296.1 160.4 302.4 162.9 308.5 C165.5 314.8 168.8 322.0 172.2 327.1 C174.9 331.1 177.3 333.5 181.0 337.0 C186.1 341.7 193.5 347.7 200.5 352.0 C207.5 356.4 215.2 360.7 222.9 363.0 C230.2 365.2 237.7 365.6 245.2 366.0 C252.6 366.4 260.4 366.5 267.6 365.7 C274.5 364.9 281.9 363.4 287.5 361.3 C292.0 359.6 295.6 357.5 299.0 355.2 C302.0 353.2 304.7 350.8 307.0 348.5 C309.1 346.5 310.9 344.6 312.5 342.4 C314.1 340.2 315.6 338.2 316.8 335.5 C318.2 332.2 318.8 327.9 319.8 324.0 C320.8 320.0 321.8 316.2 322.8 312.0 C324.0 307.3 325.4 302.1 326.4 297.0 C327.5 291.8 328.3 286.8 329.3 281.0 C330.5 274.2 331.9 266.1 333.2 258.7 C334.4 251.2 335.5 243.6 336.6 236.3 C337.7 229.4 338.7 221.9 339.8 216.0 C340.7 211.4 341.9 207.7 342.8 203.7 C343.6 199.9 344.4 195.9 345.1 192.5 C345.7 189.6 346.0 187.0 346.7 184.4 C347.4 182.0 348.4 179.4 349.3 177.4 C349.9 175.8 350.6 174.5 351.3 173.2 C352.0 172.0 352.5 170.7 353.3 169.9 C354.1 169.2 354.8 168.6 355.9 168.3 C357.4 167.9 359.7 168.1 361.7 168.2 C363.7 168.3 366.3 168.3 367.7 168.8 C368.5 169.1 369.0 169.7 369.6 170.2 C370.4 170.8 371.2 171.4 371.8 172.3 C372.6 173.3 373.4 174.6 374.0 176.0 C374.8 177.6 375.4 179.4 376.0 181.6 C376.8 184.6 377.2 188.8 377.8 192.5 C378.5 196.2 379.2 199.9 380.0 203.7 C380.7 207.7 381.5 211.4 382.3 216.0 C383.3 221.9 384.4 229.4 385.3 236.3 C386.3 243.6 387.0 251.3 388.1 258.7 C389.1 266.2 390.2 273.6 391.6 281.0 C393.0 288.5 394.4 296.5 396.4 303.4 C398.3 309.7 401.0 316.5 403.0 321.0 C404.3 323.9 405.2 325.6 406.5 328.0 C407.9 330.6 409.5 333.5 411.0 336.0 C412.4 338.4 413.6 340.5 415.1 342.8 C416.7 345.2 418.2 347.6 420.3 350.0 C422.7 352.7 426.4 355.7 429.0 358.0 C431.1 359.9 432.9 361.5 434.9 362.9 C436.8 364.3 438.9 365.5 440.9 366.5 C442.8 367.5 444.8 368.3 446.8 369.0 C448.8 369.7 450.8 370.3 452.8 370.8 C454.8 371.3 456.7 371.7 458.7 372.0 C460.7 372.3 462.7 372.4 464.7 372.5 C466.7 372.6 468.7 372.7 470.6 372.4 C472.5 372.1 474.3 371.6 476.0 371.0 C477.7 370.4 479.3 369.8 481.0 369.0 C482.8 368.1 484.8 367.1 486.5 366.0 C488.1 365.0 489.5 363.8 491.0 362.6 C492.6 361.3 494.2 359.9 495.8 358.3 C497.7 356.4 500.0 353.9 501.8 351.7 C503.5 349.6 504.9 348.1 506.5 345.5 C508.7 341.9 511.0 336.3 513.0 331.9 C514.8 327.8 516.4 324.2 518.0 320.0 C519.8 315.4 521.5 311.0 523.3 305.5 C525.7 298.3 528.9 288.1 530.8 280.6 C532.4 274.5 533.3 269.6 534.4 264.0 C535.5 258.4 536.4 252.5 537.5 247.0 C538.5 241.8 539.6 236.9 540.5 232.0 C541.4 227.3 542.1 222.2 543.0 218.0 C543.7 214.5 544.4 211.2 545.4 208.4 C546.2 206.1 547.2 204.2 548.0 202.3 C548.7 200.7 549.2 199.1 550.0 197.7 C550.6 196.4 551.3 195.1 552.2 194.2 C553.0 193.4 553.7 192.9 554.8 192.6 C556.3 192.2 558.5 192.3 560.4 192.3 C562.2 192.3 564.5 192.2 565.8 192.8 C566.7 193.2 567.2 193.8 567.8 194.5 C568.5 195.4 569.0 196.5 569.7 197.7 C570.5 199.1 571.4 200.6 572.2 202.3 C573.1 204.2 574.1 206.1 574.8 208.4 C575.6 211.1 575.9 214.3 576.6 217.5 C577.3 221.0 578.2 224.7 579.0 228.7 C580.0 233.4 580.9 238.9 582.1 244.0 C583.2 249.0 584.6 253.7 586.1 259.0 C587.7 265.1 589.6 271.9 591.6 278.7 C593.7 285.9 595.9 293.6 598.6 301.0 C601.4 308.7 604.8 316.6 608.3 324.0 C611.7 331.2 615.6 338.6 619.5 345.0 C623.0 350.7 626.4 356.0 630.3 360.5 C633.9 364.6 638.3 368.3 642.0 371.3 C645.1 373.7 647.4 375.4 650.8 377.4 C655.0 379.8 660.3 382.3 665.3 384.4 C670.5 386.6 676.0 388.4 681.6 390.2 C687.6 392.1 693.7 393.5 700.2 395.3 C707.6 397.4 715.8 400.0 723.6 402.1 C731.3 404.1 739.4 406.0 746.9 407.6 C753.9 409.1 761.5 410.2 767.4 411.5 C771.9 412.5 775.1 413.4 779.3 414.4 C784.0 415.5 790.2 416.8 794.2 417.8 C797.0 418.5 798.9 419.1 801.3 419.7 L860 430 L0 430 Z" fill="url(#gl)"/>
<g clip-path="url(#cf)"><path d="M64.5 416.8 C70.4 413.5 76.9 411.1 82.3 406.8 C87.9 402.4 93.6 395.6 97.2 390.4 C100.0 386.5 101.5 383.5 103.2 379.2 C105.2 374.0 106.5 367.5 107.7 361.3 C109.0 354.7 109.4 347.6 110.5 340.6 C111.6 333.3 113.3 325.7 114.5 318.3 C115.7 310.9 117.0 303.5 117.9 296.0 C118.8 288.6 119.4 281.1 120.1 273.6 C120.8 266.2 121.3 258.7 121.9 251.3 C122.5 243.9 122.7 237.2 123.6 229.0 C124.7 218.9 127.1 203.0 128.1 195.3 C128.6 191.3 128.9 189.3 129.3 186.3 C129.7 183.2 130.1 180.1 130.7 177.0 C131.3 174.0 132.0 171.0 132.7 168.0 C133.4 165.0 134.1 161.5 135.1 159.1 C135.8 157.3 136.5 155.6 137.5 154.5 C138.2 153.6 138.9 153.1 140.0 152.7 C141.7 152.1 144.6 152.4 147.0 152.5 C149.6 152.6 152.9 152.6 155.0 153.2 C156.5 153.7 157.5 154.2 158.5 155.2 C159.7 156.4 160.7 158.3 161.7 160.0 C162.7 161.8 163.5 163.1 164.5 165.8 C166.6 171.7 169.6 184.8 171.7 194.9 C173.9 205.8 175.7 219.3 177.2 229.0 C178.3 236.1 178.9 241.4 180.0 247.6 C181.1 253.8 182.3 260.0 183.8 266.2 C185.4 272.5 187.3 278.7 189.3 284.9 C191.3 291.1 193.3 297.4 195.9 303.5 C198.6 309.8 201.8 317.0 205.2 322.1 C207.9 326.1 210.3 328.5 214.0 332.0 C219.1 336.7 226.5 342.7 233.5 347.0 C240.5 351.4 248.2 355.7 255.9 358.0 C263.2 360.2 270.7 360.6 278.2 361.0 C285.6 361.4 293.4 361.5 300.6 360.7 C307.5 359.9 314.9 358.4 320.5 356.3 C325.0 354.6 328.6 352.5 332.0 350.2 C335.0 348.2 337.7 345.8 340.0 343.5 C342.1 341.5 343.9 339.6 345.5 337.4 C347.1 335.2 348.6 333.2 349.8 330.5 C351.2 327.2 351.8 322.9 352.8 319.0 C353.8 315.0 354.8 311.2 355.8 307.0 C356.9 302.3 358.3 297.1 359.2 292.0 C360.2 286.8 360.7 281.8 361.5 276.0 C362.5 269.2 363.6 261.1 364.6 253.7 C365.6 246.2 366.4 238.6 367.3 231.3 C368.1 224.4 368.8 216.9 369.8 211.0 C370.6 206.4 371.5 202.7 372.3 198.7 C373.0 194.9 373.7 190.9 374.3 187.5 C374.8 184.6 375.0 182.0 375.6 179.4 C376.2 177.0 377.1 174.4 377.9 172.4 C378.5 170.8 379.1 169.5 379.8 168.2 C380.4 167.0 380.9 165.7 381.7 164.9 C382.4 164.2 383.1 163.6 384.2 163.3 C385.7 162.9 388.1 163.1 390.0 163.2 C392.0 163.3 394.6 163.3 396.0 163.8 C396.9 164.1 397.3 164.7 398.0 165.2 C398.8 165.8 399.6 166.4 400.3 167.3 C401.1 168.3 401.9 169.6 402.6 171.0 C403.4 172.6 404.1 174.4 404.8 176.6 C405.7 179.6 406.2 183.8 407.0 187.5 C407.8 191.2 408.6 194.9 409.5 198.7 C410.4 202.7 411.4 206.4 412.3 211.0 C413.5 216.9 414.8 224.4 416.0 231.3 C417.2 238.6 418.2 246.3 419.5 253.7 C420.8 261.2 422.2 268.6 423.8 276.0 C425.5 283.5 427.2 291.4 429.4 298.4 C431.4 304.7 434.0 311.5 436.0 316.0 C437.3 318.9 438.2 320.6 439.5 323.0 C440.9 325.6 442.5 328.5 444.0 331.0 C445.4 333.4 446.6 335.5 448.1 337.8 C449.7 340.2 451.2 342.6 453.3 345.0 C455.7 347.7 459.4 350.7 462.0 353.0 C464.1 354.9 465.9 356.5 467.9 357.9 C469.8 359.3 471.9 360.5 473.9 361.5 C475.8 362.5 477.8 363.3 479.8 364.0 C481.8 364.7 483.8 365.3 485.8 365.8 C487.8 366.3 489.7 366.7 491.7 367.0 C493.7 367.3 495.7 367.4 497.7 367.5 C499.7 367.6 501.7 367.7 503.6 367.4 C505.5 367.1 507.3 366.6 509.0 366.0 C510.7 365.4 512.3 364.8 514.0 364.0 C515.8 363.1 517.8 362.1 519.5 361.0 C521.1 360.0 522.5 358.8 524.0 357.6 C525.6 356.3 527.2 354.9 528.8 353.3 C530.7 351.4 533.0 348.9 534.8 346.7 C536.5 344.6 537.9 343.1 539.5 340.5 C541.7 336.9 544.0 331.3 546.0 326.9 C547.8 322.8 549.4 319.2 551.0 315.0 C552.8 310.4 554.6 306.0 556.3 300.5 C558.6 293.4 561.3 283.1 563.0 275.6 C564.4 269.5 565.1 264.6 566.0 259.0 C566.9 253.4 567.6 247.5 568.5 242.0 C569.3 236.8 570.2 231.9 571.0 227.0 C571.7 222.3 572.2 217.2 573.0 213.0 C573.6 209.5 574.2 206.2 575.1 203.4 C575.8 201.1 576.8 199.2 577.5 197.3 C578.1 195.7 578.6 194.1 579.3 192.7 C579.9 191.4 580.5 190.1 581.4 189.2 C582.1 188.4 582.9 187.9 584.0 187.6 C585.4 187.1 587.7 187.3 589.5 187.3 C591.3 187.3 593.7 187.2 595.0 187.8 C595.9 188.2 596.4 188.8 597.0 189.5 C597.7 190.4 598.3 191.5 599.0 192.7 C599.8 194.1 600.8 195.6 601.7 197.3 C602.7 199.2 603.7 201.1 604.5 203.4 C605.4 206.1 605.8 209.3 606.6 212.5 C607.5 216.0 608.4 219.7 609.4 223.7 C610.5 228.4 611.6 233.9 613.0 239.0 C614.3 244.0 615.9 248.7 617.5 254.0 C619.4 260.1 621.5 266.9 623.7 273.7 C626.1 280.9 628.6 288.6 631.5 296.0 C634.5 303.7 637.8 311.6 641.3 319.0 C644.8 326.2 648.6 333.6 652.5 340.0 C656.0 345.7 659.4 351.0 663.3 355.5 C666.9 359.6 671.3 363.3 675.0 366.3 C678.1 368.7 680.4 370.4 683.8 372.4 C688.0 374.8 693.3 377.3 698.3 379.4 C703.5 381.6 709.0 383.4 714.6 385.2 C720.6 387.1 726.7 388.5 733.2 390.3 C740.6 392.4 748.8 395.0 756.6 397.1 C764.3 399.1 772.4 401.0 779.9 402.6 C786.9 404.1 794.5 405.2 800.4 406.5 C804.9 407.5 808.1 408.4 812.3 409.4 C817.0 410.5 823.2 411.8 827.2 412.8 C830.0 413.5 831.9 414.1 834.3 414.7 L900 414.7 L900 440 L0 440 Z" fill="url(#g)" filter="url(#bl)"/></g>
<rect x="0" y="150" width="325" height="170" fill="url(#vgp)"/>
<rect x="0" y="390" width="300" height="30" fill="url(#bot)" mask="url(#botm)"/>
<rect x="325" y="150" width="145" height="170" fill="url(#vgy)"/>
<rect x="470" y="150" width="388" height="170" fill="url(#vg)"/>
<path d="M31.5 421.8 C37.4 418.5 43.9 416.1 49.3 411.8 C54.9 407.4 60.6 400.6 64.2 395.4 C67.0 391.5 68.5 388.5 70.2 384.2 C72.2 379.0 73.5 372.5 74.7 366.3 C76.0 359.7 76.4 352.6 77.5 345.6 C78.6 338.3 80.2 330.7 81.5 323.3 C82.7 315.9 83.9 308.4 85.0 301.0 C86.1 293.5 87.1 286.1 88.0 278.6 C88.9 271.2 89.7 263.7 90.5 256.3 C91.4 248.9 91.9 242.2 93.0 234.0 C94.4 223.9 97.4 208.0 98.7 200.3 C99.3 196.3 99.7 194.3 100.2 191.3 C100.7 188.2 101.2 185.1 101.9 182.0 C102.6 179.0 103.4 176.0 104.2 173.0 C105.1 170.0 105.9 166.5 106.9 164.1 C107.7 162.3 108.5 160.6 109.5 159.5 C110.2 158.7 110.9 158.1 112.0 157.7 C113.7 157.1 116.6 157.4 119.0 157.5 C121.6 157.6 124.9 157.5 127.0 158.2 C128.5 158.7 129.4 159.2 130.5 160.2 C131.7 161.4 132.6 163.3 133.5 165.0 C134.5 166.8 135.2 168.1 136.1 170.8 C138.0 176.7 140.6 189.8 142.3 199.9 C144.1 210.8 145.4 224.3 146.6 234.0 C147.5 241.1 147.9 246.4 148.8 252.6 C149.7 258.8 150.6 265.0 151.9 271.2 C153.3 277.5 155.0 283.7 156.8 289.9 C158.6 296.1 160.4 302.4 162.9 308.5 C165.5 314.8 168.8 322.0 172.2 327.1 C174.9 331.1 177.3 333.5 181.0 337.0 C186.1 341.7 193.5 347.7 200.5 352.0 C207.5 356.4 215.2 360.7 222.9 363.0 C230.2 365.2 237.7 365.6 245.2 366.0 C252.6 366.4 260.4 366.5 267.6 365.7 C274.5 364.9 281.9 363.4 287.5 361.3 C292.0 359.6 295.6 357.5 299.0 355.2 C302.0 353.2 304.7 350.8 307.0 348.5 C309.1 346.5 310.9 344.6 312.5 342.4 C314.1 340.2 315.6 338.2 316.8 335.5 C318.2 332.2 318.8 327.9 319.8 324.0 C320.8 320.0 321.8 316.2 322.8 312.0 C324.0 307.3 325.4 302.1 326.4 297.0 C327.5 291.8 328.3 286.8 329.3 281.0 C330.5 274.2 331.9 266.1 333.2 258.7 C334.4 251.2 335.5 243.6 336.6 236.3 C337.7 229.4 338.7 221.9 339.8 216.0 C340.7 211.4 341.9 207.7 342.8 203.7 C343.6 199.9 344.4 195.9 345.1 192.5 C345.7 189.6 346.0 187.0 346.7 184.4 C347.4 182.0 348.4 179.4 349.3 177.4 C349.9 175.8 350.6 174.5 351.3 173.2 C352.0 172.0 352.5 170.7 353.3 169.9 C354.1 169.2 354.8 168.6 355.9 168.3 C357.4 167.9 359.7 168.1 361.7 168.2 C363.7 168.3 366.3 168.3 367.7 168.8 C368.5 169.1 369.0 169.7 369.6 170.2 C370.4 170.8 371.2 171.4 371.8 172.3 C372.6 173.3 373.4 174.6 374.0 176.0 C374.8 177.6 375.4 179.4 376.0 181.6 C376.8 184.6 377.2 188.8 377.8 192.5 C378.5 196.2 379.2 199.9 380.0 203.7 C380.7 207.7 381.5 211.4 382.3 216.0 C383.3 221.9 384.4 229.4 385.3 236.3 C386.3 243.6 387.0 251.3 388.1 258.7 C389.1 266.2 390.2 273.6 391.6 281.0 C393.0 288.5 394.4 296.5 396.4 303.4 C398.3 309.7 401.0 316.5 403.0 321.0 C404.3 323.9 405.2 325.6 406.5 328.0 C407.9 330.6 409.5 333.5 411.0 336.0 C412.4 338.4 413.6 340.5 415.1 342.8 C416.7 345.2 418.2 347.6 420.3 350.0 C422.7 352.7 426.4 355.7 429.0 358.0 C431.1 359.9 432.9 361.5 434.9 362.9 C436.8 364.3 438.9 365.5 440.9 366.5 C442.8 367.5 444.8 368.3 446.8 369.0 C448.8 369.7 450.8 370.3 452.8 370.8 C454.8 371.3 456.7 371.7 458.7 372.0 C460.7 372.3 462.7 372.4 464.7 372.5 C466.7 372.6 468.7 372.7 470.6 372.4 C472.5 372.1 474.3 371.6 476.0 371.0 C477.7 370.4 479.3 369.8 481.0 369.0 C482.8 368.1 484.8 367.1 486.5 366.0 C488.1 365.0 489.5 363.8 491.0 362.6 C492.6 361.3 494.2 359.9 495.8 358.3 C497.7 356.4 500.0 353.9 501.8 351.7 C503.5 349.6 504.9 348.1 506.5 345.5 C508.7 341.9 511.0 336.3 513.0 331.9 C514.8 327.8 516.4 324.2 518.0 320.0 C519.8 315.4 521.5 311.0 523.3 305.5 C525.7 298.3 528.9 288.1 530.8 280.6 C532.4 274.5 533.3 269.6 534.4 264.0 C535.5 258.4 536.4 252.5 537.5 247.0 C538.5 241.8 539.6 236.9 540.5 232.0 C541.4 227.3 542.1 222.2 543.0 218.0 C543.7 214.5 544.4 211.2 545.4 208.4 C546.2 206.1 547.2 204.2 548.0 202.3 C548.7 200.7 549.2 199.1 550.0 197.7 C550.6 196.4 551.3 195.1 552.2 194.2 C553.0 193.4 553.7 192.9 554.8 192.6 C556.3 192.2 558.5 192.3 560.4 192.3 C562.2 192.3 564.5 192.2 565.8 192.8 C566.7 193.2 567.2 193.8 567.8 194.5 C568.5 195.4 569.0 196.5 569.7 197.7 C570.5 199.1 571.4 200.6 572.2 202.3 C573.1 204.2 574.1 206.1 574.8 208.4 C575.6 211.1 575.9 214.3 576.6 217.5 C577.3 221.0 578.2 224.7 579.0 228.7 C580.0 233.4 580.9 238.9 582.1 244.0 C583.2 249.0 584.6 253.7 586.1 259.0 C587.7 265.1 589.6 271.9 591.6 278.7 C593.7 285.9 595.9 293.6 598.6 301.0 C601.4 308.7 604.8 316.6 608.3 324.0 C611.7 331.2 615.6 338.6 619.5 345.0 C623.0 350.7 626.4 356.0 630.3 360.5 C633.9 364.6 638.3 368.3 642.0 371.3 C645.1 373.7 647.4 375.4 650.8 377.4 C655.0 379.8 660.3 382.3 665.3 384.4 C670.5 386.6 676.0 388.4 681.6 390.2 C687.6 392.1 693.7 393.5 700.2 395.3 C707.6 397.4 715.8 400.0 723.6 402.1 C731.3 404.1 739.4 406.0 746.9 407.6 C753.9 409.1 761.5 410.2 767.4 411.5 C771.9 412.5 775.1 413.4 779.3 414.4 C784.0 415.5 790.2 416.8 794.2 417.8 C797.0 418.5 798.9 419.1 801.3 419.7" fill="none" stroke="#000" stroke-opacity="0.07" stroke-width="2"/>
<rect x="0" y="416.8" width="858" height="1.5" fill="#fff" fill-opacity="0.2"/>
</g>
<rect x="76.90" y="37.0" width="2.2" height="385.5" fill="#fff" fill-opacity="0.88"/>
<rect x="192.90" y="35.0" width="2.2" height="387.5" fill="#fff" fill-opacity="0.88"/>
<rect x="311.40" y="35.0" width="2.2" height="387.5" fill="#fff" fill-opacity="0.88"/>
<rect x="428.30" y="35.0" width="2.2" height="387.5" fill="#fff" fill-opacity="0.88"/>
<rect x="544.90" y="35.0" width="2.2" height="387.5" fill="#fff" fill-opacity="0.88"/>
<rect x="662.80" y="35.0" width="2.2" height="387.5" fill="#fff" fill-opacity="0.88"/>
<rect x="779.30" y="35.0" width="2.2" height="387.5" fill="#fff" fill-opacity="0.88"/>
</svg>
<div class="hl" style="top:51px;left:80px">harmful</div><div class="hl" style="top:74.6px;left:78px">light</div>
<div class="lab" style="left:17.0px;color:#949494">410</div>
<div class="lab" style="left:131.5px;color:#69696f">460</div>
<div class="lab" style="left:252.0px;color:#9b9b9b">510</div>
<div class="lab" style="left:370.2px;color:#9b9b9b">560</div>
<div class="lab" style="left:487.5px;color:#9b9b9b">610</div>
<div class="lab" style="left:603.3px;color:#9b9b9b">660</div>
<div class="lab" style="left:720.5px;color:#9b9b9b">710</div>
</body></html>
